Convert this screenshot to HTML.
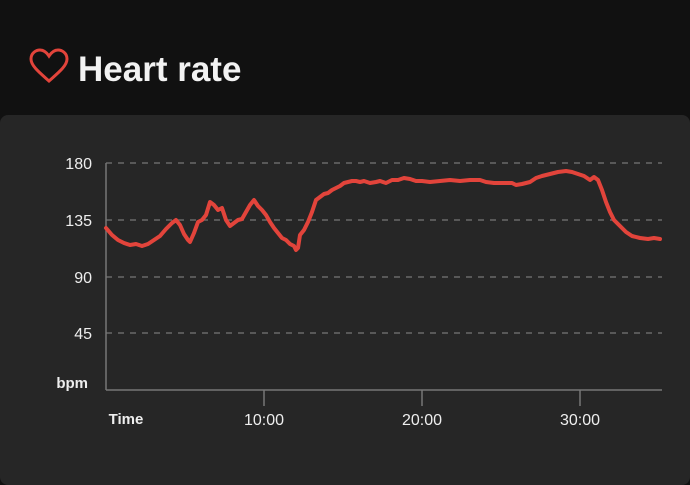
<!DOCTYPE html>
<html><head><style>
html,body{margin:0;padding:0;background:#111;width:690px;height:472px;overflow:hidden;font-family:"Liberation Sans",sans-serif}
.panel{position:absolute;left:0;top:115px;width:690px;height:370px;background:#262626;border-radius:8px}
</style></head><body>
<svg width="690" height="472" style="position:absolute;left:0;top:0">
<path d="M49 81 C 40 73 31 66 31 59 C 31 53 36 50 40 50 C 44 50 47 53 49 56 C 51 53 54 50 58 50 C 62 50 67 53 67 59 C 67 66 58 73 49 81 Z" fill="none" stroke="#e2443b" stroke-width="3"/>
<text x="78" y="81" fill="#f2f2f2" font-size="35" font-weight="bold">Heart rate</text>
</svg>
<div class="panel"></div>
<svg width="690" height="472" style="position:absolute;left:0;top:0">
<g stroke="#777" stroke-width="1.3" stroke-dasharray="6,6">
<line x1="106" y1="163" x2="662" y2="163"/><line x1="106" y1="220" x2="662" y2="220"/>
<line x1="106" y1="277" x2="662" y2="277"/><line x1="106" y1="333" x2="662" y2="333"/>
</g>
<g stroke="#777" stroke-width="1.5">
<line x1="106" y1="163" x2="106" y2="390"/><line x1="106" y1="390" x2="662" y2="390"/>
<line x1="264" y1="390" x2="264" y2="406"/><line x1="422" y1="390" x2="422" y2="406"/><line x1="580" y1="390" x2="580" y2="406"/>
</g>
<g fill="#eee" font-size="16" text-anchor="end">
<text x="92" y="169">180</text><text x="92" y="226">135</text><text x="92" y="283">90</text><text x="92" y="339">45</text>
<text x="88" y="388" font-weight="bold" font-size="15">bpm</text>
</g>
<g fill="#eee" font-size="16" text-anchor="middle">
<text x="126" y="424" font-weight="bold" font-size="15">Time</text>
<text x="264" y="425">10:00</text><text x="422" y="425">20:00</text><text x="580" y="425">30:00</text>
</g>
<polyline fill="none" stroke="#e2443b" stroke-width="4" stroke-linejoin="round" stroke-linecap="round" points="106,228 112,235 118,240 124,243 130,245 136,244 142,246 148,244 154,240 160,236 166,229 172,223 176,220 180,225 184,234 188,240 190,242 194,233 198,222 202,220 206,215 210,202 214,205 218,210 222,208 226,220 230,226 234,223 238,220 242,219 246,212 250,205 254,200 258,206 262,210 266,215 270,222 274,228 278,233 282,238 286,240 290,244 294,246 296,250 298,248 300,235 304,230 308,222 312,212 316,200 320,197 324,194 328,193 332,190 336,188 340,186 344,183 348,182 352,181 356,181 360,182 364,181 370,183 376,182 380,181 386,183 392,180 398,180 404,178 410,179 416,181 422,181 430,182 440,181 450,180 460,181 470,180 480,180 486,182 494,183 504,183 512,183 516,185 522,184 530,182 536,178 542,176 550,174 558,172 566,171 572,172 578,174 584,176 590,180 594,177 598,180 602,190 606,202 610,212 614,220 620,226 626,232 632,236 640,238 648,239 654,238 660,239"/>
</svg>
</body></html>
